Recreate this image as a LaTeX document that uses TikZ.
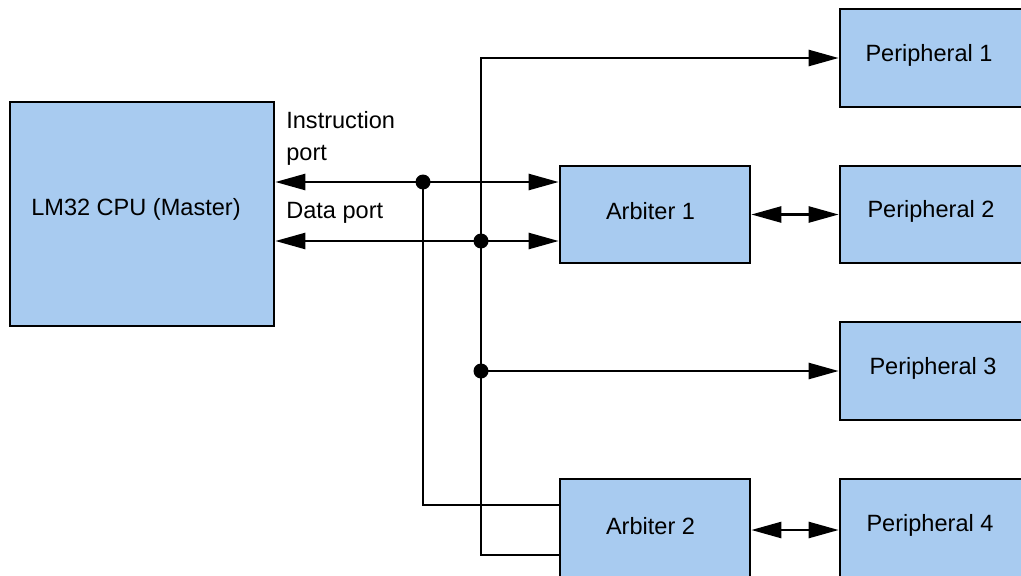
\documentclass[tikz,border=0pt]{standalone}
\usepackage{fontspec}
\setmainfont{Liberation Sans}
\usetikzlibrary{arrows.meta}
\definecolor{boxblue}{RGB}{168,203,240}
\tikzset{
  blk/.style={draw,fill=boxblue,line width=0.055cm,inner sep=0pt},
  arr/.style={line width=0.05cm,-{Triangle[length=0.6cm,width=0.32cm]}},
  darr/.style={line width=0.05cm,{Triangle[length=0.6cm,width=0.32cm]}-{Triangle[length=0.6cm,width=0.32cm]}},
  bus/.style={line width=0.05cm},
  jn/.style={circle,fill,inner sep=0pt,minimum size=0.3cm}
}
\begin{document}
\begin{tikzpicture}[x=0.02cm,y=-0.02cm,font=\fontsize{13.4}{18.5}\selectfont]
\useasboundingbox (0,0) rectangle (1021,575);
\node (cpu) [blk,minimum width=5.28cm,minimum height=4.48cm,label={[xshift=-0.12cm,yshift=0.1cm]center:LM32 CPU (Master)}] at (142,214) {};
\node (arb1) [blk,minimum width=3.8cm,minimum height=1.94cm,label={[xshift=-0.09cm,yshift=0.06cm]center:Arbiter 1}] at (655,214.5) {};
\node (arb2) [blk,minimum width=3.8cm,minimum height=2.04cm,label={[xshift=-0.09cm,yshift=0.08cm]center:Arbiter 2}] at (655,530) {};
\node (per1) [blk,minimum width=4cm,minimum height=1.96cm,label={[xshift=-0.22cm,yshift=0.06cm]center:Peripheral 1}] at (940,58) {};
\node (per2) [blk,minimum width=4cm,minimum height=1.94cm,label={[xshift=-0.18cm,yshift=0.06cm]center:Peripheral 2}] at (940,214.5) {};
\node (per3) [blk,minimum width=4cm,minimum height=1.96cm,label={[xshift=-0.14cm,yshift=0.06cm]center:Peripheral 3}] at (940,371) {};
\node (per4) [blk,minimum width=4cm,minimum height=2.04cm,label={[xshift=-0.2cm,yshift=0.1cm]center:Peripheral 4}] at (940,530) {};
\node (ilbl) [anchor=north west,align=left,inner sep=0pt] at (286,111) {Instruction\\port};
\node (dlbl) [anchor=base west,inner sep=0pt] at (286,218) {Data port};
% junctions on the buses
\coordinate (ins) at (423,182);
\coordinate (dat) at (481,241);
\coordinate (tap) at (481,371);
\coordinate (top) at (481,58);
\coordinate (bot) at (481,555);
\coordinate (low) at (423,505);
\draw[darr] (ins -| cpu.east) -- (ins -| arb1.west);
\draw[darr] (dat -| cpu.east) -- (dat -| arb1.west);
\draw[arr] (bot -| arb2.west) -- (bot) -- (top) -- (per1.west);
\draw[arr] (tap) -- (per3.west);
\draw[bus] (ins) -- (low) -- (low -| arb2.west);
\draw[darr] (arb1) -- (per2);
\draw[darr] (arb2) -- (per4);
\node (d1) [jn] at (ins) {};
\node (d2) [jn] at (dat) {};
\node (d3) [jn] at (tap) {};
\end{tikzpicture}
\end{document}
